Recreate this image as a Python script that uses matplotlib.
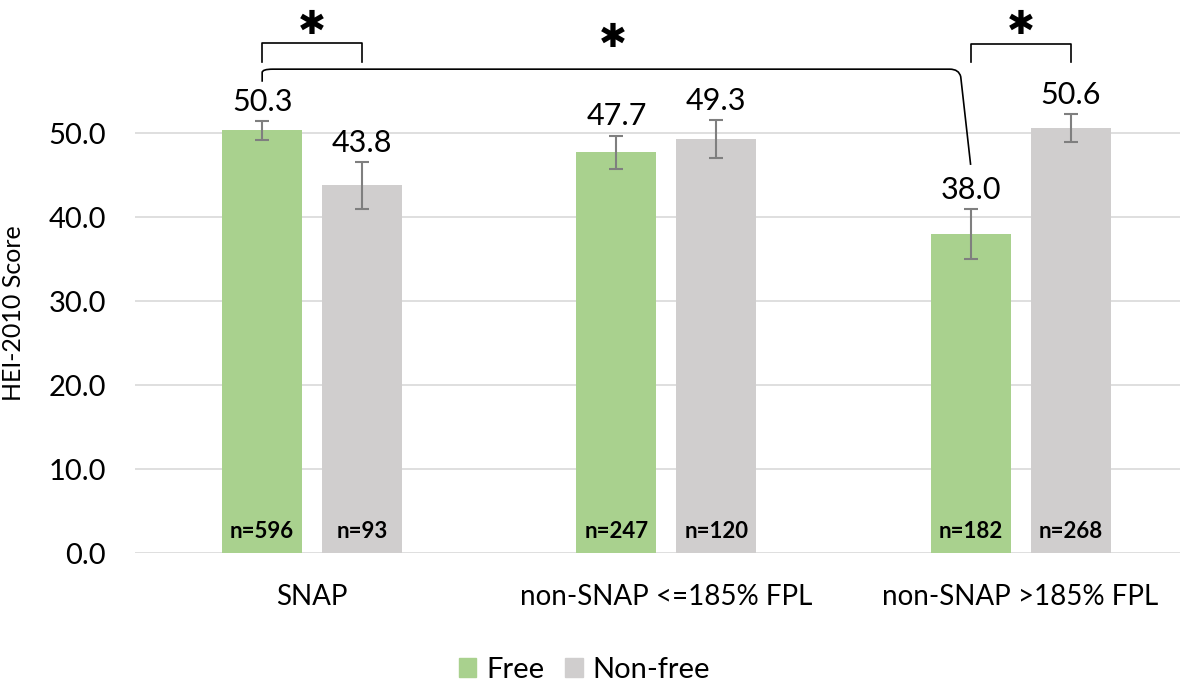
import matplotlib
matplotlib.use("Agg")
import matplotlib.pyplot as plt
from matplotlib.path import Path
from matplotlib.patches import PathPatch, Patch
import numpy as np

plt.rcParams['font.family'] = ['Lato', 'DejaVu Sans']

categories = ["SNAP", "non-SNAP <=185% FPL", "non-SNAP >185% FPL"]
free_vals = [50.3, 47.7, 38.0]
nonfree_vals = [43.8, 49.3, 50.6]
free_err = [1.1, 2.0, 3.0]
nonfree_err = [2.8, 2.3, 1.7]
free_n = ["n=596", "n=247", "n=182"]
nonfree_n = ["n=93", "n=120", "n=268"]
yticks = [0, 10, 20, 30, 40, 50]

GREEN = "#a9d18e"
GRAY = "#d0cece"
ERR = "#7f7f7f"

fig = plt.figure(figsize=(11.88, 6.82), dpi=100)
ax = fig.add_axes([135/1188, 1-553/682, (1180-135)/1188, 546/682])

x = np.arange(len(categories))
off = 0.141
w = 0.226

ax.bar(x - off, free_vals, w, color=GREEN, label="Free", zorder=2)
ax.bar(x + off, nonfree_vals, w, color=GRAY, label="Non-free", zorder=2)
ax.errorbar(x - off, free_vals, yerr=free_err, fmt='none', ecolor=ERR, capsize=5, elinewidth=1.5, capthick=1.5, zorder=3)
ax.errorbar(x + off, nonfree_vals, yerr=nonfree_err, fmt='none', ecolor=ERR, capsize=5, elinewidth=1.5, capthick=1.5, zorder=3)

for xi, v, e, n in zip(x - off, free_vals, free_err, free_n):
    ax.text(xi, v + e + 0.6, f"{v:.1f}", ha='center', va='bottom', fontsize=22)
    ax.text(xi, 2.6, n, ha='center', va='center', fontsize=16, fontweight='bold')
for xi, v, e, n in zip(x + off, nonfree_vals, nonfree_err, nonfree_n):
    ax.text(xi, v + e + 0.6, f"{v:.1f}", ha='center', va='bottom', fontsize=22)
    ax.text(xi, 2.6, n, ha='center', va='center', fontsize=16, fontweight='bold')

ax.set_xlim(-0.5, 2.45)
ax.set_ylim(0, 65)
ax.set_yticks(yticks)
ax.set_yticklabels([f"{t:.1f}" for t in yticks], fontsize=21)
ax.set_xticks(x)
ax.set_xticklabels(categories, fontsize=20)
ax.tick_params(axis='y', length=0, pad=21)
ax.tick_params(axis='x', length=0, pad=22)
for s in ax.spines.values():
    s.set_visible(False)
for t in yticks:
    ax.axhline(t, color="#d9d9d9", lw=1.2, zorder=1)
ax.set_ylabel("HEI-2010 Score", fontsize=18)
ax.yaxis.set_label_coords(-0.105, 0.44)

# brackets
def bracket(x0, x1, ytop, ybot):
    ax.plot([x0, x0, x1, x1], [ybot, ytop, ytop, ybot], color='black', lw=1.2, zorder=4,
            solid_joinstyle='round')

bracket(0 - off, 0 + off, 60.7, 58.5)
bracket(2 - off, 2 + off, 60.6, 58.5)

xl = 0 - off
xr = 2 - off
verts = [(xl, 56.1), (xl, 57.2), (xl, 57.6), (xl + 0.03, 57.6),
         (1.80, 57.6), (1.826, 57.6), (1.831, 56.7), (xr + 0.0, 46.2)]
codes = [Path.MOVETO, Path.LINETO, Path.CURVE3, Path.CURVE3,
         Path.LINETO, Path.CURVE3, Path.CURVE3, Path.LINETO]
ax.add_patch(PathPatch(Path(verts, codes), fill=False, lw=1.2, edgecolor='black', zorder=4))

star_kw = dict(ha='center', va='center', fontsize=24, family=['DejaVu Sans'])
ax.text(0, 62.9, "\u2731", **star_kw)
ax.text(0.85, 61.4, "\u2731", **star_kw)
ax.text(2, 62.9, "\u2731", **star_kw)

handles = [Patch(color=GREEN, label="Free"), Patch(color=GRAY, label="Non-free")]
fig.legend(handles=handles, loc='center', bbox_to_anchor=(0.492, 0.018), ncol=2, frameon=False,
           fontsize=21, handlelength=0.6, handleheight=0.6, handletextpad=0.35, columnspacing=0.7)

fig.savefig("out.png", dpi=100)
